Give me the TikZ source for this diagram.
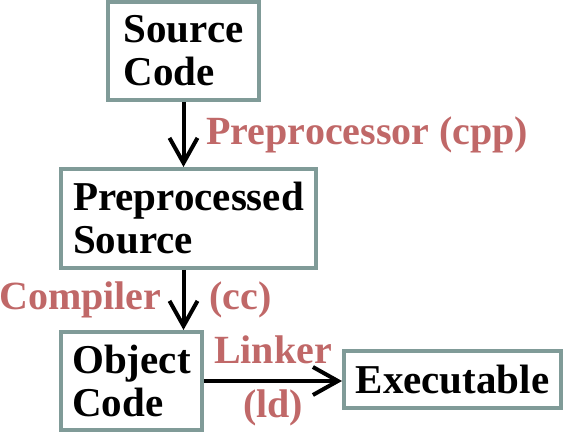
\documentclass[tikz,border=0pt]{standalone}
\usepackage{fontspec}
\setmainfont{Liberation Serif}
\usetikzlibrary{positioning,arrows.meta}
\definecolor{boxColor}{RGB}{128,155,152}
\definecolor{toolColor}{RGB}{192,104,104}
\tikzstyle{canvas} = [x = 0.5pt, y = -0.5pt]
\tikzstyle{stageBox} = [draw=boxColor, fill=white, line width=2pt, align=left, inner sep=0pt, font=\fontsize{20.5}{21.5}\selectfont\bfseries]
\tikzstyle{toolText} = [text=toolColor, inner sep=0pt, font=\fontsize{20}{21}\selectfont\bfseries]
\tikzstyle{flowArrow} = [line width=2pt, -{Straight Barb[length=12.5pt, width=14pt]}]
\begin{document}
\begin{tikzpicture}[canvas]
          \useasboundingbox (0,0) rectangle (567,432);
          \node [stageBox, minimum width=75.5pt, minimum height=49pt] (source) at (183.5,51) {Source\\Code};
          \node [stageBox, minimum width=127.5pt, minimum height=49.5pt] (pre) at (188.5,218.5) {Preprocessed\\Source};
          \node [stageBox, minimum width=70.5pt, minimum height=49pt] (obj) at (131.5,381) {Object\\Code};
          \node [stageBox, minimum width=108.5pt, minimum height=28.5pt] (exe) at (452.5,379.5) {Executable};

          \draw [flowArrow] (source.south) -- (source.south |- pre.north)
            node [toolText, midway, right=10.5pt] {Preprocessor (cpp)};
          \draw [flowArrow] (pre.south -| source.south) -- (obj.north -| source.south)
            node [toolText, midway, left=10pt] {Compiler}
            node [toolText, midway, right=12pt] {(cc)};
          \draw [flowArrow] (obj.east) -- (obj.east -| exe.west)
            node [toolText, midway, above=7.5pt] {Linker}
            node [toolText, midway, below=3.5pt] {(ld)};
        \end{tikzpicture}
\end{document}
